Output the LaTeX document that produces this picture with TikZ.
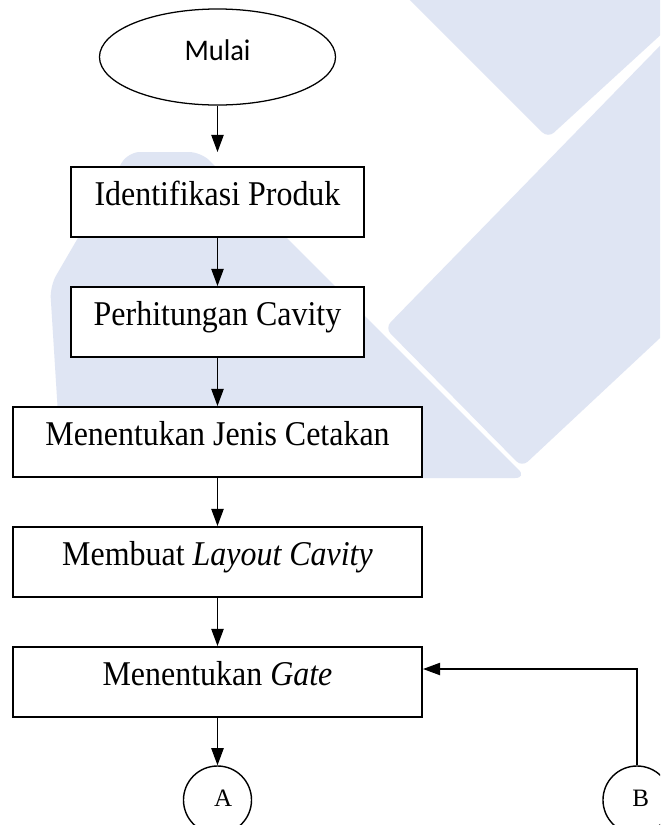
\documentclass[tikz,border=0pt]{standalone}
\usepackage{fontspec}
\setmainfont{Liberation Serif}
\newfontfamily\boxfont[FakeStretch=0.92]{Liberation Serif}
\newfontfamily\calibrifont[FakeStretch=0.95]{Carlito}
\usetikzlibrary{arrows.meta, shapes.geometric}

\definecolor{wmblue}{RGB}{223,229,243}

\begin{document}
\begin{tikzpicture}[x=0.025cm, y=-0.025cm,
  procbox/.style={draw, line width=1.4pt, fill=white, minimum width=7.3cm, minimum height=1.75cm,
    inner sep=0pt, font=\boxfont\fontsize{24.7}{28}\selectfont, text height=0.77em, text depth=0.3em},
  widebox/.style={procbox, minimum width=10.225cm},
  flow/.style={-{Triangle[length=0.43cm, width=0.31cm]}, line width=0.9pt},
  connector/.style={draw, circle, line width=1pt, fill=white, minimum size=1.7cm, inner sep=0pt,
    font=\fontsize{17.8}{20}\selectfont, text height=0.96em, text depth=0pt}
]

% Frame
\clip (0,0) rectangle (660,825);
\fill[white] (0,0) rectangle (660,825);

% Watermark
\fill[wmblue, rounded corners=0.2cm] (400,-10) -- (548,138) -- (690,8) -- (690,-10) -- cycle;
\fill[wmblue, rounded corners=0.2cm] (385,328) -- (690,15) -- (690,310) -- (522,467) -- cycle;
\fill[wmblue, rounded corners=0.3cm] (50,286) -- (128,152) -- (201,152) -- (527,478)
  -- (62,478) -- cycle;

% Start
\node[ellipse, draw, line width=0.9pt, fill=white, minimum width=5.9cm, minimum height=2.4cm,
  inner sep=0pt, font=\calibrifont\fontsize{21.3}{24}\selectfont, text height=0.92em, text depth=0.4em]
  (mulai) at (217.5,57) {Mulai};

% Steps
\node[procbox]  (ident)  at (217.5,202) {Identifikasi Produk};
\node[procbox]  (hitung) at (217.5,322) {Perhitungan Cavity};
\node[widebox]  (jenis)  at (217.5,442) {Menentukan Jenis Cetakan};
\node[widebox]  (layout) at (217.5,562) {Membuat \textit{Layout Cavity}};
\node[widebox]  (gate)   at (217.5,682) {Menentukan \textit{Gate}};

% Connectors
\node[connector] (conA) at (217.5,800) {\hspace*{0.45em}A};
\node[connector] (conB) at (637,800)   {\hspace*{0.3em}B};

% Arrows
\draw[flow, shorten >=0.35cm] (mulai) -- (ident);
\draw[flow] (ident) -- (hitung);
\draw[flow] (hitung) -- (jenis);
\draw[flow] (jenis) -- (layout);
\draw[flow] (layout) -- (gate);
\draw[flow] (gate) -- (conA);
\draw[flow] (conB.north) |- ([yshift=0.325cm]gate.east);

\end{tikzpicture}
\end{document}
